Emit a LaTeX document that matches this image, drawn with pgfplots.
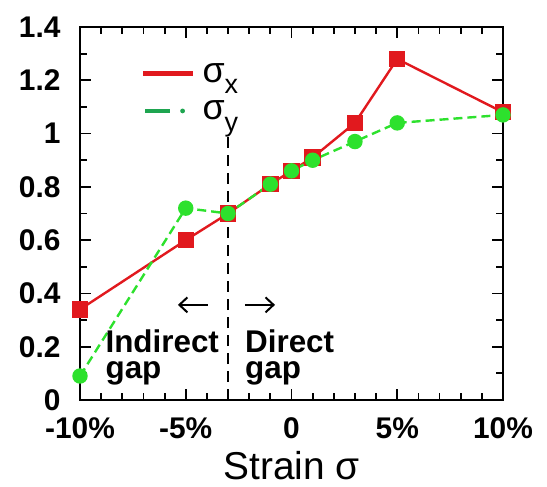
\documentclass[border=0pt]{standalone}
\usepackage{pgfplots}
\pgfplotsset{compat=1.18}
\usepackage{fontspec}
\setmainfont{Liberation Sans}
\usetikzlibrary{arrows.meta}
\definecolor{cred}{RGB}{225,25,30}
\definecolor{cgreen}{RGB}{45,225,45}
\definecolor{lgreen}{RGB}{30,165,80}
\begin{document}
\begin{tikzpicture}
\begin{axis}[
  scale only axis, width=423bp, height=373bp,
  xmin=-10, xmax=10, ymin=0, ymax=1.4,
  xtick={-10,-5,0,5,10}, xticklabels={-10\%,-5\%,0,5\%,10\%},
  ytick={0,0.2,0.4,0.6,0.8,1,1.2,1.4},
  minor x tick num=4, minor y tick num=1,
  tick align=inside,
  major tick length=11bp, minor tick length=7bp,
  tick style={black, line width=1.8bp},
  axis line style={line width=2.6bp},
  every tick label/.append style={font=\fontsize{30}{32}\selectfont\bfseries},
  /pgf/number format/assume math mode=true,
  yticklabel style={xshift=-16bp},
  xticklabel style={yshift=-14bp},
  xlabel={Strain σ},
  xlabel style={font=\fontsize{39}{42}\selectfont, yshift=-6bp},
  clip=false,
  legend style={draw=none, fill=none, at={(axis cs:-7.05,1.272)}, anchor=north west,
    font=\fontsize{36}{38}\selectfont, row sep=13bp, inner sep=0pt,
    /tikz/every odd column/.append style={column sep=8bp}},
  legend cell align=left,
]
\addplot[cred, line width=2.4bp, mark=square*, mark size=7bp, mark options={solid},
  legend image code/.code={\path[draw=none, fill=cred] (0bp,-2.3bp) rectangle (50bp,2.3bp);}]
  coordinates {(-10,0.34) (-5,0.60) (-3,0.70) (-1,0.81) (0,0.86) (1,0.91) (3,1.04) (5,1.28) (10,1.08)};
\addlegendentry{σ\raisebox{-0.32em}[0pt][0pt]{\fontsize{27}{27}\selectfont x}}
\addplot[cgreen, line width=2.4bp, dash pattern=on 9bp off 5bp, mark=*, mark size=6.5bp, mark options={solid},
  legend image code/.code={\path[draw=none, fill=lgreen] (2bp,-2.3bp) rectangle (27bp,2.3bp); \path[draw=none, fill=lgreen] (40bp,0bp) circle (2.4bp);}]
  coordinates {(-10,0.09) (-5,0.72) (-3,0.70) (-1,0.81) (0,0.86) (1,0.90) (3,0.97) (5,1.04) (10,1.07)};
\addlegendentry{σ\raisebox{-0.32em}[0pt][0pt]{\fontsize{27}{27}\selectfont y}}
\addplot[black, line width=2.6bp, dash pattern=on 11bp off 7bp, forget plot] coordinates {(-3,0) (-3,1.0)};
\draw[-{Straight Barb[length=8bp, width=15bp]}, line width=2bp] (axis cs:-3.95,0.357) -- (axis cs:-5.37,0.357);
\draw[-{Straight Barb[length=8bp, width=15bp]}, line width=2bp] (axis cs:-2.2,0.357) -- (axis cs:-0.78,0.357);
\node[anchor=north west, align=left, font=\bfseries\fontsize{31.5}{26}\selectfont, inner sep=0pt] at (axis cs:-8.8,0.265) {Indirect\\gap};
\node[anchor=north west, align=left, font=\bfseries\fontsize{31.5}{26}\selectfont, inner sep=0pt] at (axis cs:-2.2,0.265) {Direct\\gap};
\coordinate (sw) at (rel axis cs:0,0);
\coordinate (ne) at (rel axis cs:1,1);
\end{axis}
\pgfresetboundingbox
\path[use as bounding box] ([shift={(-80bp,-87bp)}]sw) rectangle ([shift={(44bp,27bp)}]ne);
\end{tikzpicture}
\end{document}
